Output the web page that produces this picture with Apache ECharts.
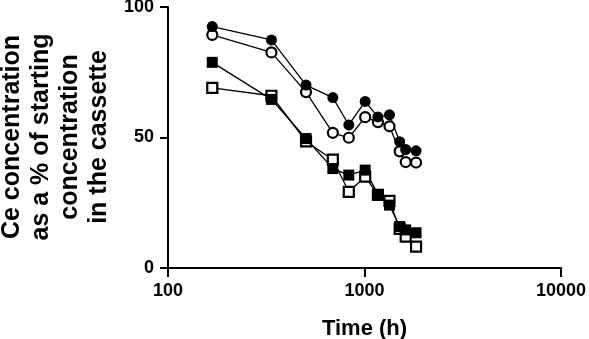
<!DOCTYPE html>
<html>
<head>
<meta charset="utf-8">
<script src="https://cdn.jsdelivr.net/npm/echarts@6/dist/echarts.min.js"></script>
<style>
html,body{margin:0;padding:0;background:#fff;}
#c{width:589px;height:339px;}
</style>
</head>
<body>
<div id="c"></div>
<script>
// Time points (h)
const times = [168, 336, 504, 690, 832, 1008, 1170, 1340, 1510, 1620, 1830];
// Series values (% of starting concentration)
const filledCircle = [92.5, 87.4, 70.1, 65.3, 54.8, 63.8, 57.9, 58.7, 48.4, 45.4, 44.9];
const openCircle   = [89.3, 82.6, 67.4, 51.8, 49.9, 57.8, 55.9, 54.3, 44.7, 40.6, 40.4];
const filledSquare = [78.8, 64.6, 49.6, 38.1, 35.6, 37.5, 28.2, 24.1, 15.9, 14.6, 13.5];
const openSquare   = [69.0, 66.0, 48.5, 41.5, 29.2, 35.0, 28.0, 25.7, 15.0, 12.0, 8.2];
// Axis
const xTicks = [100, 1000, 10000];
const yTicks = [0, 50, 100];
const xTitle = 'Time (h)';
const yTitle = 'Ce concentration\nas a % of starting\nconcentration\nin the cassette';

const FONT = "'Liberation Sans', Arial, Helvetica, sans-serif";
const pair = v => v.map((y, i) => [times[i], y]);

function series(name, data, symbol, filled, size) {
  return {
    name, type: 'line', data: pair(data), symbol, symbolSize: size,
    lineStyle: { color: '#000', width: 1.3 },
    itemStyle: filled ? { color: '#000', borderColor: '#000', borderWidth: 0 }
                      : { color: '#fff', borderColor: '#000', borderWidth: 2.2 },
    emphasis: { disabled: true },
    animation: false
  };
}

const chart = echarts.init(document.getElementById('c'), null, { renderer: 'canvas' });
chart.setOption({
  animation: false,
  grid: { left: 168, right: 28, top: 7, bottom: 71, containLabel: false, outerBoundsMode: 'none' },
  xAxis: {
    type: 'log', logBase: 10, min: xTicks[0], max: xTicks[xTicks.length - 1],
    name: xTitle, nameLocation: 'middle', nameGap: 50,
    nameTextStyle: { fontFamily: FONT, fontWeight: 'bold', fontSize: 22, color: '#000' },
    axisLine: { show: true, lineStyle: { color: '#000', width: 2 } },
    axisTick: { show: true, length: 9, lineStyle: { color: '#000', width: 2 } },
    minorTick: { show: false },
    axisLabel: { fontFamily: FONT, fontWeight: 'bold', fontSize: 18, color: '#000', margin: 14,
                 formatter: v => String(Math.round(v)) },
    splitLine: { show: false }
  },
  yAxis: {
    type: 'value', min: yTicks[0], max: yTicks[yTicks.length - 1], interval: 50,
    axisLine: { show: true, lineStyle: { color: '#000', width: 2 } },
    axisTick: { show: true, length: 8, lineStyle: { color: '#000', width: 2 } },
    axisLabel: { fontFamily: FONT, fontWeight: 'bold', fontSize: 18, color: '#000', margin: 14 },
    splitLine: { show: false }
  },
  graphic: [{
    type: 'text', x: 56, y: 137, rotation: Math.PI / 2,
    style: {
      text: yTitle, fontFamily: FONT, fontWeight: 'bold', fontSize: 25, lineHeight: 29,
      fill: '#000', textAlign: 'center', textVerticalAlign: 'middle'
    }
  }],
  series: [
    series('open square', openSquare, 'rect', false, 10),
    series('filled square', filledSquare, 'rect', true, 11),
    series('open circle', openCircle, 'circle', false, 10),
    series('filled circle', filledCircle, 'circle', true, 11)
  ]
});
</script>
</body>
</html>
